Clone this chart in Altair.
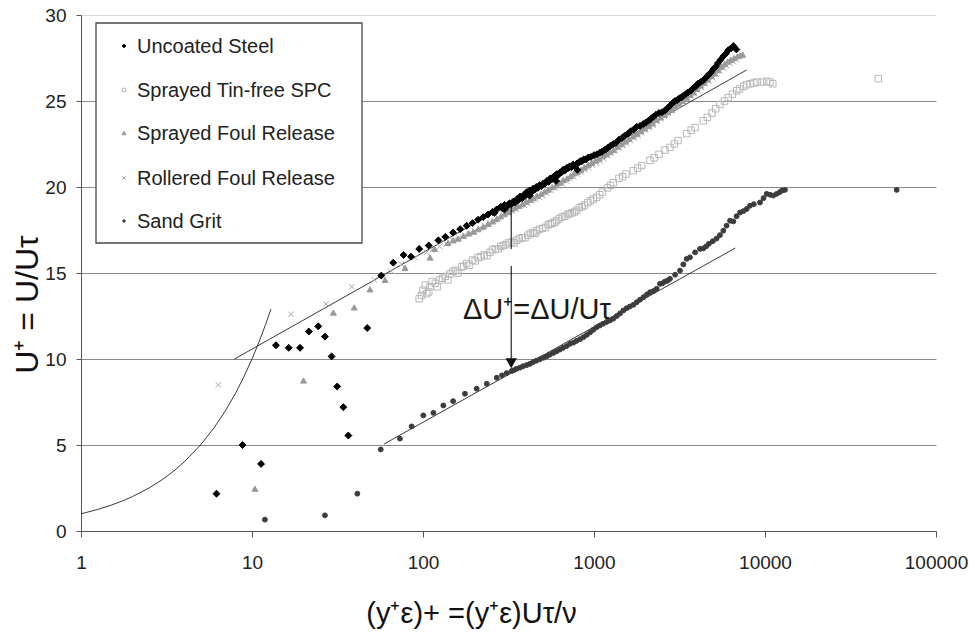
import altair as alt
import pandas as pd

series_names = ["Uncoated Steel", "Sprayed Tin-free SPC", "Sprayed Foul Release",
                "Rollered Foul Release", "Sand Grit"]

unc_x = [6.2, 8.8, 11.3, 13.8, 16.4, 19.1, 21.5, 24.4, 26.7, 29.2, 31.5, 34.2, 36.6, 47.2, 57,
         67, 77, 85, 95, 108, 123, 135, 150, 165, 180, 195, 210, 225, 240, 255, 270, 285, 300,
         320, 337, 355, 370, 390, 404, 420, 440, 460, 480, 505, 530, 555, 580, 605, 632, 660,
         690, 720, 755, 792, 830, 870, 927, 1000, 1084, 1150, 1210, 1297, 1400, 1518, 1640,
         1778, 1943, 2080, 2222, 2400, 2600, 2800, 2976, 3150, 3329, 3550, 3808, 4050, 4357,
         4650, 4985, 5300, 5705, 6100, 6530, 6800,
         262, 292, 310, 328, 346, 362, 380, 397, 412, 430, 450, 470, 492, 517, 542, 567, 592,
         618, 646, 675, 705, 737, 772, 810, 850, 895, 960, 1040, 1115, 1180, 1250, 1340, 1460,
         1580, 1710, 1860, 2010, 2150, 2300, 2500, 2700, 2890, 3060, 3240, 3440, 3680, 3930,
         4200, 4500, 4820, 5150, 5500, 5900, 6300, 300, 420, 600, 800]
unc_y = [2.17, 5.0, 3.9, 10.8, 10.65, 10.65, 11.6, 11.9, 11.3, 10.15, 8.4, 7.2, 5.55, 11.8, 14.85,
         15.6, 16.05, 15.95, 16.4, 16.6, 16.9, 17.1, 17.35, 17.55, 17.75, 17.9, 18.1, 18.25, 18.4,
         18.55, 18.7, 18.85, 18.95, 19.05, 19.15, 19.3, 19.45, 19.55, 19.7, 19.8, 19.9, 20.0,
         20.1, 20.2, 20.35, 20.5, 20.6, 20.75, 20.85, 21.0, 21.1, 21.2, 21.3, 21.35, 21.5, 21.6,
         21.72, 21.85, 22.0, 22.15, 22.3, 22.5, 22.75, 23.0, 23.25, 23.5, 23.66, 23.85, 24.08,
         24.3, 24.45, 24.75, 25.0, 25.15, 25.3, 25.5, 25.75, 26.0, 26.2, 26.5, 26.85, 27.2,
         27.6, 27.95, 28.2, 28.0,
         18.5, 18.75, 18.85, 19.0, 19.1, 19.25, 19.35, 19.5, 19.6, 19.7, 19.85, 19.95, 20.05,
         20.2, 20.3, 20.45, 20.55, 20.7, 20.85, 20.95, 21.1, 21.15, 21.25, 21.4, 21.5, 21.6,
         21.75, 21.9, 22.05, 22.2, 22.4, 22.55, 22.85, 23.1, 23.35, 23.55, 23.75, 23.95, 24.2,
         24.35, 24.6, 24.9, 25.05, 25.2, 25.4, 25.6, 25.85, 26.1, 26.35, 26.65, 27.0, 27.4,
         27.75, 28.05, 18.7, 19.5, 20.35, 21.0]

spc_x = [95, 100, 105, 110, 118, 125, 135, 144, 155, 168, 180, 195, 210, 228, 246, 265, 285,
         305, 330, 353, 380, 410, 440, 462, 500, 540, 570, 605, 650, 700, 745, 792, 850, 920,
         990, 1037, 1120, 1200, 1297, 1400, 1540, 1698, 1900, 2125, 2400, 2600, 2782, 3100,
         3481, 3900, 4357, 4900, 5456, 6100, 6828, 7500, 8166, 9000, 10226, 11100, 46000,
         98, 103, 108, 113, 121, 130, 140, 150, 160, 173, 186, 202, 218, 237, 255, 275, 295,
         317, 341, 366, 395, 425, 452, 480, 520, 555, 590, 625, 675, 720, 770, 820, 880, 955,
         1080, 1250, 1470, 1800, 2250, 2950, 3700, 4600, 5150, 5800, 6450, 7100, 7800, 8600,
         9600, 10700]
spc_y = [13.5, 14.0, 13.8, 14.2, 14.4, 14.6, 14.8, 14.95, 15.15, 15.35, 15.55, 15.75, 15.9,
         16.05, 16.2, 16.4, 16.55, 16.65, 16.8, 16.9, 17.05, 17.2, 17.35, 17.45, 17.6, 17.8,
         17.9, 18.05, 18.25, 18.4, 18.5, 18.65, 18.85, 19.1, 19.3, 19.4, 19.7, 19.95, 20.25,
         20.5, 20.75, 20.95, 21.25, 21.55, 21.9, 22.15, 22.3, 22.7, 23.1, 23.45, 23.85, 24.3,
         24.8, 25.2, 25.6, 25.85, 26.0, 26.1, 26.15, 26.0, 26.3,
         13.7, 14.3, 13.9, 14.5, 14.2, 14.7, 14.6, 15.1, 15.0, 15.4, 15.45, 15.7, 15.95, 16.0,
         16.35, 16.4, 16.6, 16.75, 16.75, 17.0, 17.05, 17.3, 17.3, 17.55, 17.65, 17.85, 17.95,
         18.15, 18.3, 18.45, 18.55, 18.8, 18.95, 19.2, 19.55, 20.1, 20.6, 21.1, 21.7, 22.5,
         23.3, 24.05, 24.55, 25.0, 25.4, 25.7, 25.95, 26.05, 26.1, 26.1]

sfr_x = [10.4, 20, 29.9, 39.6, 49, 60, 78.5, 110, 117, 140, 160, 185, 210, 240, 270, 300, 330,
         360, 400, 440, 490, 540, 600, 660, 730, 800, 880, 970, 1070, 1180, 1300, 1450, 1600,
         1780, 1980, 2200, 2450, 2700, 3000, 3300, 3650, 4000, 4400, 4850, 5300, 5800, 6300,
         6900, 7400,
         150, 172, 197, 225, 255, 285, 315, 345, 380, 420, 465, 515, 570, 630, 695, 765, 840,
         925, 1020, 1125, 1240, 1375, 1525, 1690, 1880, 2090, 2320, 2580, 2850, 3150, 3480,
         3820, 4200, 4620, 5070, 5550, 6050, 6600, 7150]
sfr_y = [2.46, 8.75, 12.7, 13.0, 14.05, 14.6, 15.3, 15.9, 16.4, 16.75, 17.0, 17.3, 17.55, 17.85,
         18.15, 18.45, 18.7, 18.9, 19.15, 19.35, 19.6, 19.85, 20.1, 20.4, 20.65, 20.9, 21.15,
         21.4, 21.65, 21.9, 22.15, 22.5, 22.8, 23.1, 23.4, 23.7, 24.05, 24.35, 24.7, 25.0,
         25.35, 25.7, 26.05, 26.45, 26.8, 27.15, 27.4, 27.6, 27.7,
         16.9, 17.15, 17.4, 17.7, 18.0, 18.3, 18.55, 18.8, 19.0, 19.25, 19.5, 19.75, 20.0,
         20.25, 20.5, 20.8, 21.0, 21.3, 21.55, 21.8, 22.05, 22.35, 22.65, 22.95, 23.25, 23.55,
         23.9, 24.2, 24.5, 24.85, 25.2, 25.5, 25.9, 26.25, 26.6, 27.0, 27.3, 27.5, 27.65]

rfr_x = [6.35, 16.9, 27.1, 38.3, 52, 65, 75, 90, 105, 125, 150, 175, 200, 230, 260, 295, 330,
         370, 410, 455, 500, 560, 620, 690, 760, 840, 930, 1030, 1140, 1260, 1400, 1550, 1720,
         1900, 2100, 2330, 2580, 2850, 3150, 3500, 3850, 4250, 4700, 5200, 5700, 6250, 6800,
         113, 137, 162, 187, 215, 245, 277, 312, 350, 390, 432, 478, 530, 590, 655, 725, 800,
         885, 980, 1085, 1200, 1330, 1475, 1635, 1810, 2000, 2215, 2455, 2715, 3000, 3320,
         3670, 4050, 4470, 4950, 5450, 5970, 6520]
rfr_y = [8.5, 12.6, 13.2, 14.2, 14.6, 15.1, 15.5, 15.9, 16.2, 16.55, 16.9, 17.2, 17.45, 17.75,
         18.05, 18.35, 18.6, 18.85, 19.05, 19.3, 19.5, 19.8, 20.05, 20.35, 20.6, 20.85, 21.1,
         21.4, 21.65, 21.95, 22.25, 22.55, 22.85, 23.15, 23.45, 23.8, 24.1, 24.45, 24.8, 25.15,
         25.45, 25.8, 26.15, 26.55, 26.9, 27.2, 27.4,
         16.35, 16.7, 17.05, 17.3, 17.6, 17.9, 18.2, 18.5, 18.7, 18.95, 19.2, 19.4, 19.65,
         19.95, 20.2, 20.5, 20.75, 21.0, 21.25, 21.5, 21.8, 22.1, 22.4, 22.7, 23.0, 23.3, 23.6,
         23.95, 24.3, 24.6, 24.95, 25.3, 25.65, 26.0, 26.35, 26.75, 27.05, 27.3]

sg_x = [11.9, 26.7, 41.3, 56.6, 73.3, 85.8, 100.4, 115, 131.5, 150, 176, 206, 236, 270, 309,
        330, 353, 385, 423, 460, 505, 550, 605, 660, 724, 790, 867, 950, 1037, 1130, 1241,
        1360, 1484, 1620, 1778, 1950, 2125, 2325, 2430, 2600, 2782, 3183, 3481, 3640, 4168,
        4357, 4700, 5210, 5705, 6240, 6530, 7145, 7816, 8166, 9351, 10226, 11180, 12200,
        13090, 58900,
        290, 340, 370, 405, 440, 482, 528, 578, 632, 692, 757, 828, 908, 993, 1083, 1185, 1300,
        1420, 1550, 1700, 1860, 2040, 2230, 2510, 2690, 2980, 3330, 3900, 4530, 4950, 5450,
        5960, 6820, 7480, 8600, 9800, 10700, 11700, 12600]
sg_y = [0.66, 0.91, 2.17, 4.74, 5.37, 6.08, 6.72, 6.87, 7.3, 7.55, 7.98, 8.27, 8.56, 8.91, 9.18,
        9.3, 9.43, 9.58, 9.72, 9.9, 10.07, 10.25, 10.45, 10.65, 10.88, 11.05, 11.27, 11.55,
        11.85, 12.05, 12.24, 12.5, 12.82, 13.05, 13.3, 13.6, 13.88, 14.08, 14.37, 14.5, 14.66,
        15.14, 15.82, 15.91, 16.4, 16.43, 16.7, 17.0, 17.46, 18.04, 18.0, 18.52, 18.72, 18.91,
        19.1, 19.6, 19.5, 19.7, 19.83, 19.83,
        9.05, 9.35, 9.5, 9.65, 9.82, 9.98, 10.15, 10.35, 10.55, 10.75, 10.95, 11.15, 11.4,
        11.7, 11.95, 12.15, 12.35, 12.65, 12.95, 13.15, 13.45, 13.75, 13.95, 14.4, 14.55,
        14.9, 15.5, 16.2, 16.55, 16.85, 17.2, 17.75, 18.3, 18.6, 19.0, 19.35, 19.55, 19.6,
        19.8]

# reference lines
visc_x = [1, 1.25, 1.5, 1.75, 2, 2.5, 3, 3.5, 4, 5, 6, 7, 8, 9, 10, 11, 12, 12.9]
visc_y = [1, 1.25, 1.5, 1.75, 2, 2.5, 3, 3.5, 4, 5, 6, 7, 8, 9, 10, 11, 12, 12.9]
smooth_x = [7.9, 7800]
smooth_y = [10.0, 26.8]
rough_x = [59, 6700]
rough_y = [5.05, 16.45]

# delta U arrow
arrow_x = [328, 328]
arrow_y1 = [18.9, 15.4]
arrow_y2 = [16.4, 9.9]
arrow_head_y = [9.75]
label_x = [464]
label_y = [12.82]
label_text = ["ΔU⁺=ΔU/Uτ"]

series_data = {
    "Sprayed Tin-free SPC": (spc_x, spc_y),
    "Sand Grit": (sg_x, sg_y),
    "Rollered Foul Release": (rfr_x, rfr_y),
    "Sprayed Foul Release": (sfr_x, sfr_y),
    "Uncoated Steel": (unc_x, unc_y),
}
rows = []
for name, (xs, ys) in series_data.items():
    for a, b in zip(xs, ys):
        rows.append({"x": a, "y": b, "series": name})
pts = pd.DataFrame(rows)

lines = pd.DataFrame(
    [{"x": a, "y": b, "line": "visc", "i": i} for i, (a, b) in enumerate(zip(visc_x, visc_y))]
    + [{"x": a, "y": b, "line": "smooth", "i": i} for i, (a, b) in enumerate(zip(smooth_x, smooth_y))]
    + [{"x": a, "y": b, "line": "rough", "i": i} for i, (a, b) in enumerate(zip(rough_x, rough_y))]
)
arrow = pd.DataFrame({"x": arrow_x, "y": arrow_y1, "y2": arrow_y2})
head = pd.DataFrame({"x": [arrow_x[0]], "y": arrow_head_y})
lab = pd.DataFrame({"x": label_x, "y": label_y, "t": label_text})

FONT = "Liberation Sans"
xscale = alt.Scale(type="log", domain=[1, 100000], nice=False)
yscale = alt.Scale(domain=[0, 30], nice=False)

xaxis = alt.Axis(values=[1, 10, 100, 1000, 10000, 100000], format="d", grid=False,
                 domainColor="#555555", tickColor="#555555", tickSize=6,
                 labelFont=FONT, labelFontSize=19, labelColor="#222222", labelPadding=16,
                 labelFlush=False, labelOverlap=False,
                 title="(y⁺ε)+ =(y⁺ε)Uτ/ν", titleFont=FONT, titleFontSize=29,
                 titleFontWeight="normal", titleColor="#111111",
                 titleX=390, titleY=91, titleAlign="center", titleBaseline="alphabetic")
yaxis = alt.Axis(values=[0, 5, 10, 15, 20, 25, 30], grid=True,
                 gridColor={"condition": {"test": "datum.value === 30", "value": "#d8d8d8"},
                            "value": "#8a8a8a"},
                 domainColor="#555555", tickColor="#555555", tickSize=5,
                 labelFont=FONT, labelFontSize=19, labelColor="#222222", labelPadding=10,
                 title="U⁺ = U/Uτ", titleFont=FONT, titleFontSize=32,
                 titleFontWeight="normal", titleColor="#111111",
                 titleX=-44, titleY=289, titleAlign="center", titleBaseline="alphabetic",
                 titleAngle=270)

shapes = ["diamond", "square", "triangle-up", "M-1,-1L1,1M-1,1L1,-1", "circle"]
fills = ["#000000", "transparent", "#9a9a9a", "transparent", "#3c3c3c"]
strokes = ["#000000", "#b8b8b8", "#9a9a9a", "#a8a8a8", "#3c3c3c"]
sizes = [48, 24, 45, 24, 6]
legend_sizes = [14, 12, 16, 12, 6]

points = alt.Chart(pts).mark_point(opacity=1, strokeWidth=1).encode(
    x=alt.X("x:Q", scale=xscale, axis=xaxis),
    y=alt.Y("y:Q", scale=yscale, axis=yaxis),
    shape=alt.Shape("series:N", scale=alt.Scale(domain=series_names, range=shapes), legend=None),
    fill=alt.Fill("series:N", scale=alt.Scale(domain=series_names, range=fills), legend=None),
    stroke=alt.Stroke("series:N", scale=alt.Scale(domain=series_names, range=strokes), legend=None),
    size=alt.Size("series:N", scale=alt.Scale(domain=series_names, range=sizes), legend=None),
)

line_layer = alt.Chart(lines).mark_line(color="#222222", strokeWidth=0.9).encode(
    x=alt.X("x:Q", scale=xscale), y=alt.Y("y:Q", scale=yscale),
    detail="line:N", order="i:Q")

arrow_layer = alt.Chart(arrow).mark_rule(color="#111111", strokeWidth=1.1).encode(
    x=alt.X("x:Q", scale=xscale), y=alt.Y("y:Q", scale=yscale), y2="y2:Q")

head_layer = alt.Chart(head).mark_point(shape="triangle-down", filled=True, size=130,
                                        color="#111111", opacity=1).encode(
    x=alt.X("x:Q", scale=xscale), y=alt.Y("y:Q", scale=yscale))

text_layer = alt.Chart(lab).mark_text(font=FONT, fontSize=29, color="#1a1a1a",
                                      align="center", baseline="middle").encode(
    x=alt.X("x:Q", scale=xscale), y=alt.Y("y:Q", scale=yscale), text="t:N")

# manual legend (pixel layout relative to the plot area)
legend_box = alt.Chart(pd.DataFrame({"k": [0]})).mark_rect(
    fill="#ffffff", stroke="#4a4a4a", strokeWidth=1.3).encode(
    x=alt.value(15), x2=alt.value(281), y=alt.value(8), y2=alt.value(228))
legend_rows_y = [31, 75, 118, 163, 206]
legend_layers = [legend_box]
for i, name in enumerate(series_names):
    d = pd.DataFrame({"series": [name]})
    legend_layers.append(
        alt.Chart(d).mark_point(shape=shapes[i], fill=fills[i], stroke=strokes[i],
                                size=legend_sizes[i], opacity=1, strokeWidth=1).encode(
            x=alt.value(43), y=alt.value(legend_rows_y[i])))
    legend_layers.append(
        alt.Chart(d).mark_text(font=FONT, fontSize=20, color="#222222", align="left",
                               baseline="middle").encode(
            x=alt.value(56), y=alt.value(legend_rows_y[i] + 1), text="series:N"))

chart = alt.layer(line_layer, points, arrow_layer, head_layer, text_layer,
                  *legend_layers).properties(
    width=855, height=516,
    autosize=alt.AutoSizeParams(type="none"),
    padding={"left": 81, "top": 15, "right": 33, "bottom": 105},
).configure_view(strokeWidth=0)

chart.save("out.html", embed_options={"renderer": "svg", "actions": False})
